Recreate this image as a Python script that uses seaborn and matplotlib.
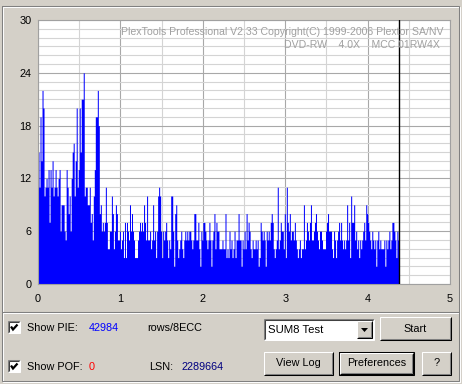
import numpy as np
import pandas as pd
import matplotlib
matplotlib.use("Agg")
import matplotlib.pyplot as plt
import seaborn as sns
from matplotlib.lines import Line2D
from matplotlib.patches import Rectangle, Polygon
from matplotlib.ticker import MultipleLocator

# ---------------- data (PIE per sample) ----------------
pie_seg1 = [15, 11, 19, 14, 22, 20, 10, 11, 12, 11, 13, 7, 13, 11, 14, 10, 11, 13, 11, 10,
            12, 13, 6, 9, 9, 9, 6, 5, 13, 11, 8, 10, 6, 12, 15, 16, 10, 14, 20, 11]
pie_seg2 = [13, 20, 15, 21, 21, 24, 10, 11, 11, 9, 9, 11, 7, 8, 5, 10, 13, 19, 19, 22,
            18, 8, 9, 6, 7, 6, 7, 11, 7, 4, 4, 6, 6, 10, 8, 4, 6, 9, 8, 5, 5, 6]
pie_seg3 = [4, 5, 6, 3, 7, 3, 7, 6, 5, 9, 6, 8, 6, 5, 3, 3, 3, 5, 6, 7,
            6, 7, 6, 9, 7, 5, 10, 5, 5, 6, 4, 5, 9, 5, 6, 3, 6, 10, 11, 10,
            6, 3, 6, 5, 6, 7, 5, 3, 5, 4, 10, 10, 6, 2, 8, 9, 5, 3, 4, 5,
            6, 4, 3, 5, 6, 5]
pie_seg4 = [6, 5, 6, 6, 5, 4, 5, 8, 8, 5, 5, 7, 4, 2, 6, 5, 7, 7, 6, 5,
            4, 5, 7, 5, 2, 5, 6, 8, 4, 7, 6, 6, 4, 4, 4, 5, 4, 4, 8, 3,
            4, 3, 6, 4, 5, 3, 4, 6, 3, 5, 5, 8, 5, 5, 2, 5, 4, 6, 4, 8,
            5, 7, 6, 4, 3, 5, 4, 4, 5, 4]
pie_seg5 = [5, 2, 3, 7, 6, 5, 6, 5, 2, 6, 5, 6, 5, 7, 8, 7, 4, 3, 4, 5,
            11, 4, 5, 7, 6, 6, 4, 8, 3, 11, 7, 6, 8, 5, 6, 6, 5, 7, 5, 4,
            3, 4, 5, 3, 4, 4, 9, 4, 5, 7, 6, 5, 7, 9, 5, 5, 6, 7, 8, 6,
            5, 4, 6, 6, 5, 4, 4, 4]
pie_seg6 = [6, 7, 8, 6, 6, 6, 4, 3, 6, 5, 3, 5, 6, 7, 5, 7, 5, 4, 5, 4,
            5, 9, 5, 7, 3, 10, 7, 7, 9, 5, 6, 4, 5, 3, 5, 4, 5, 6, 7, 5,
            9, 8, 7, 6, 5, 4, 6, 5, 4, 5, 2, 5, 6, 4, 5, 4, 4, 4, 5, 2,
            5, 4, 5, 6, 4, 5, 7, 7, 6, 5, 3, 6, 5]
pie_values = pie_seg1 + pie_seg2 + pie_seg3 + pie_seg4 + pie_seg5 + pie_seg6
scan_end_gb = 4.38
x_ticks = [0, 1, 2, 3, 4, 5]
y_ticks = [0, 6, 12, 18, 24, 30]
header_line1 = "PlexTools Professional V2.33 Copyright(C) 1999-2006 Plextor SA/NV"
header_line2 = "DVD-RW    4.0X    MCC 01RW4X"
pie_total = "42984"
pof_total = "0"
lsn_value = "2289664"
test_name = "SUM8 Test"

# ---------------- figure ----------------
sns.set_style("white")
plt.rcParams["font.family"] = ["Liberation Sans", "DejaVu Sans"]

W, H = 462, 384
FACE = "#d4d0c8"
fig = plt.figure(figsize=(W / 100, H / 100), dpi=100, facecolor=FACE)


def fx(x):
    return x / W


def fy(y):
    return 1 - y / H


ax = fig.add_axes([fx(38), fy(284), (450 - 38) / W, (284 - 20) / H])
ax.set_facecolor("white")

n = len(pie_values)
step = scan_end_gb / n
centers = (np.arange(n) + 0.5) * step
df = pd.DataFrame({"pos": centers, "pie": pie_values})
sns.histplot(data=df, x="pos", weights="pie", bins=n, binrange=(0, scan_end_gb),
             element="step", fill=True, color="#0000ff", alpha=1, linewidth=0, ax=ax)
ax.axvline(scan_end_gb, color="black", lw=1.0, zorder=3)

ax.set_xlim(0, 5)
ax.set_ylim(0, 30)
ax.set_xticks(x_ticks)
ax.set_xticklabels([str(t) for t in x_ticks])
ax.set_yticks(y_ticks)
ax.set_yticklabels([str(t) for t in y_ticks])
ax.xaxis.set_minor_locator(MultipleLocator(0.5))
ax.yaxis.set_minor_locator(MultipleLocator(1))
ax.set_axisbelow(True)
ax.grid(which="major", color="#a8a8a8", lw=0.8)
ax.grid(which="minor", color="#d4d4d4", lw=0.8)
ax.tick_params(which="major", length=2.5, width=0.8, color="#a0a0a0",
               labelsize=7.8, labelcolor="black", pad=2)
ax.tick_params(axis="x", which="major", pad=5)
ax.tick_params(which="minor", length=0)
ax.set_xlabel("")
ax.set_ylabel("")
for s in ax.spines.values():
    s.set_color("#a0a0a0")
    s.set_linewidth(0.8)

ax.text(0.985, 0.955, header_line1, transform=ax.transAxes, ha="right", va="center",
        color="#a0a0a0", fontsize=7.6)
ax.text(0.975, 0.905, header_line2, transform=ax.transAxes, ha="right", va="center",
        color="#a0a0a0", fontsize=7.6)


# ---------------- window chrome ----------------
def line(xs, ys, c, lw=0.75):
    fig.add_artist(Line2D([fx(v) for v in xs], [fy(v) for v in ys],
                          transform=fig.transFigure, color=c, lw=lw,
                          solid_capstyle="butt", solid_joinstyle="miter"))


def rect_outline(x0, y0, x1, y1, c):
    line([x0, x1, x1, x0, x0], [y0, y0, y1, y1, y0], c)


def fill_rect(x0, y0, x1, y1, c):
    fig.add_artist(Rectangle((fx(x0), fy(y1)), fx(x1) - fx(x0), fy(y0) - fy(y1),
                             transform=fig.transFigure, facecolor=c, edgecolor="none"))


def etched(x0, y0, x1, y1):
    rect_outline(x0 + 1, y0 + 1, x1 + 1, y1 + 1, "white")
    rect_outline(x0, y0, x1, y1, "#808080")


def raised(x0, y0, x1, y1, default=False):
    fill_rect(x0, y0, x1, y1, FACE)
    if default:
        rect_outline(x0, y0, x1, y1, "black")
        x0, y0, x1, y1 = x0 + 1, y0 + 1, x1 - 1, y1 - 1
    line([x0, x0, x1], [y1, y0, y0], "white")
    line([x0, x1, x1], [y1, y1, y0], "black")
    line([x0 + 1, x1 - 1, x1 - 1], [y1 - 1, y1 - 1, y0 + 1], "#808080")


def sunken(x0, y0, x1, y1, fillc="white"):
    fill_rect(x0, y0, x1, y1, fillc)
    line([x0, x0, x1], [y1, y0, y0], "#808080")
    line([x0 + 1, x0 + 1, x1 - 1], [y1 - 1, y0 + 1, y0 + 1], "#404040")
    line([x0, x1, x1], [y1, y1, y0], "white")


def button(x0, y0, x1, y1, label, default=False):
    raised(x0, y0, x1, y1, default)
    fig.text(fx((x0 + x1) / 2), fy((y0 + y1) / 2), label, ha="center", va="center",
             fontsize=7.8, color="black")


def checkbox(x0, y0):
    sunken(x0, y0, x0 + 12, y0 + 12)
    line([x0 + 3, x0 + 5, x0 + 9.5], [y0 + 5.5, y0 + 8.5, y0 + 3.5], "black", lw=1.6)


etched(2, 6, 459, 312)
etched(2, 312, 459, 381)

UI = 7.8
checkbox(8, 321)
fig.text(fx(27), fy(328), "Show PIE:", ha="left", va="center", fontsize=UI, color="black")
fig.text(fx(89), fy(328), pie_total, ha="left", va="center", fontsize=UI, color="#0000ff")
fig.text(fx(147), fy(328), "rows/8ECC", ha="left", va="center", fontsize=UI, color="black")

checkbox(8, 360)
fig.text(fx(27), fy(367), "Show POF:", ha="left", va="center", fontsize=UI, color="black")
fig.text(fx(89), fy(367), pof_total, ha="left", va="center", fontsize=UI, color="#ff0000")
fig.text(fx(149), fy(367), "LSN:", ha="left", va="center", fontsize=UI, color="black")
fig.text(fx(181), fy(367), lsn_value, ha="left", va="center", fontsize=UI, color="#000080")

# combo box
sunken(264, 319, 374, 340)
fig.text(fx(268), fy(330), test_name, ha="left", va="center", fontsize=8.2, color="black")
raised(357, 321, 372, 338)
fig.add_artist(Polygon([[fx(361), fy(328)], [fx(368), fy(328)], [fx(364.5), fy(332)]],
                       closed=True, transform=fig.transFigure, facecolor="black",
                       edgecolor="none"))

button(380, 317, 451, 340, "Start")
button(264, 352, 333, 375, "View Log")
button(339, 352, 414, 375, "Preferences", default=True)
button(422, 352, 451, 375, "?")

fig.savefig("out.png", dpi=100, facecolor=FACE)
